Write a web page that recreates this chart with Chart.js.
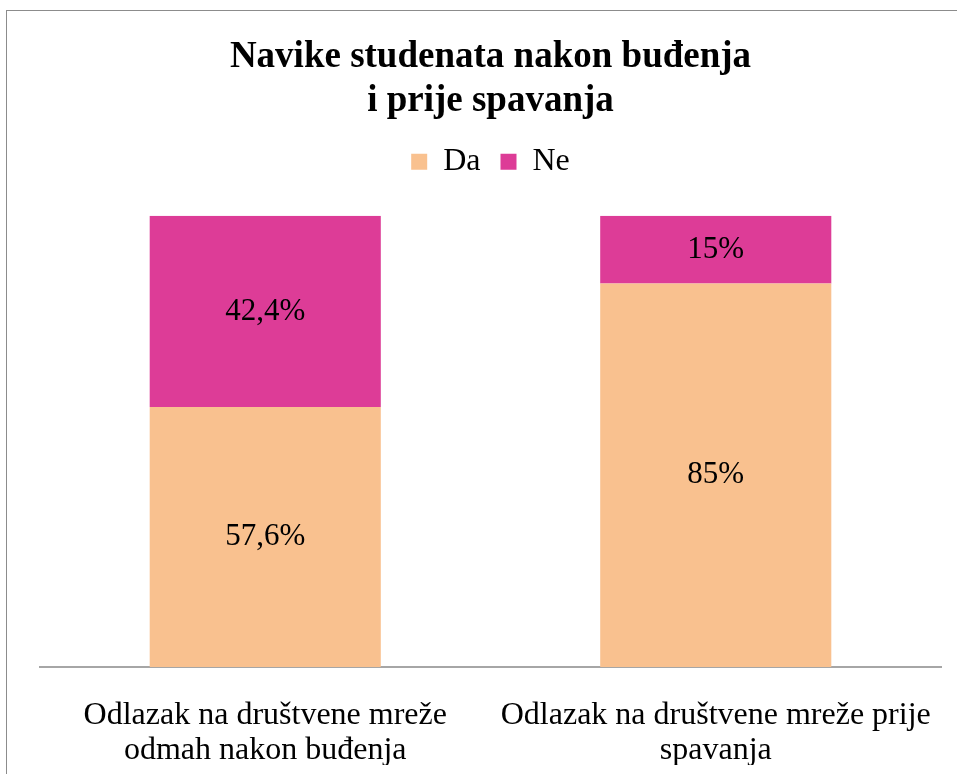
<!DOCTYPE html>
<html>
<head>
<meta charset="utf-8">
<script src="https://cdn.jsdelivr.net/npm/chart.js@4.4.1/dist/chart.umd.min.js"></script>
<style>
  html, body { margin: 0; padding: 0; background: #fff; }
  #wrap { position: relative; width: 957px; height: 774px; overflow: hidden; }
  #frame { position: absolute; left: 6px; top: 10px; width: 1000px; height: 1000px; border: 1px solid #8c8c8c; box-sizing: border-box; }
  canvas { position: absolute; left: 0; top: 0; }
</style>
</head>
<body>
<div id="wrap">
  <div id="frame"></div>
  <canvas id="c" width="957" height="774"></canvas>
</div>
<script>
const categories = [
  ["Odlazak na društvene mreže", "odmah nakon buđenja"],
  ["Odlazak na društvene mreže prije", "spavanja"]
];
const seriesNames = ["Da", "Ne"];
const daValues = [57.6, 85];
const neValues = [42.4, 15];
const valueLabels = {
  Da: ["57,6%", "85%"],
  Ne: ["42,4%", "15%"]
};
const titleLines = ["Navike studenata nakon buđenja", "i prije spavanja"];

const SERIF = "'Liberation Serif', 'Times New Roman', serif";

const segLabels = {
  id: 'segLabels',
  afterDatasetsDraw(chart) {
    const ctx = chart.ctx;
    ctx.save();
    ctx.font = "31px " + SERIF;
    ctx.fillStyle = "#000";
    ctx.textAlign = "center";
    ctx.textBaseline = "middle";
    chart.data.datasets.forEach((ds, di) => {
      const meta = chart.getDatasetMeta(di);
      meta.data.forEach((bar, i) => {
        const y = (bar.y + bar.base) / 2;
        ctx.fillText(valueLabels[ds.label][i], bar.x, y);
      });
    });
    ctx.restore();
  }
};

// extra space below the legend row
const legendGap = {
  id: 'legendGap',
  beforeUpdate(chart) {
    const lg = chart.legend;
    if (lg && !lg._gapWrapped) {
      const orig = lg.fit;
      lg.fit = function () { orig.call(this); this.height += 28; };
      lg._gapWrapped = true;
    }
  }
};

new Chart(document.getElementById('c'), {
  type: 'bar',
  data: {
    labels: categories,
    datasets: [
      { label: seriesNames[0], data: daValues, backgroundColor: '#F9C18F', borderWidth: 0 },
      { label: seriesNames[1], data: neValues, backgroundColor: '#DD3C97', borderWidth: 0 }
    ]
  },
  options: {
    responsive: false,
    animation: false,
    layout: { padding: { left: 40, right: 16, top: 35, bottom: 9 } },
    datasets: { bar: { categoryPercentage: 1, barPercentage: 0.513 } },
    plugins: {
      tooltip: { enabled: false },
      title: {
        display: true,
        text: titleLines,
        color: '#000',
        font: { family: SERIF, size: 37, weight: 'bold', lineHeight: 1.2 },
        padding: { top: 0, bottom: 2 }
      },
      legend: {
        display: true,
        position: 'top',
        labels: {
          color: '#000',
          font: { family: SERIF, size: 32 },
          boxWidth: 16,
          boxHeight: 16,
          padding: 20
        }
      }
    },
    scales: {
      x: {
        stacked: true,
        grid: { display: false, drawTicks: false },
        border: { display: true, color: '#a6a6a6', width: 2 },
        ticks: {
          color: '#000',
          font: { family: SERIF, size: 32, lineHeight: 1.1 },
          maxRotation: 0,
          autoSkip: false,
          padding: 31
        },
        afterFit(scale) {
          scale.height = 98;
          scale.paddingLeft = 0;
          scale.paddingRight = 0;
        }
      },
      y: {
        stacked: true,
        display: false,
        min: 0,
        max: 100
      }
    }
  },
  plugins: [segLabels, legendGap]
});
</script>
</body>
</html>
